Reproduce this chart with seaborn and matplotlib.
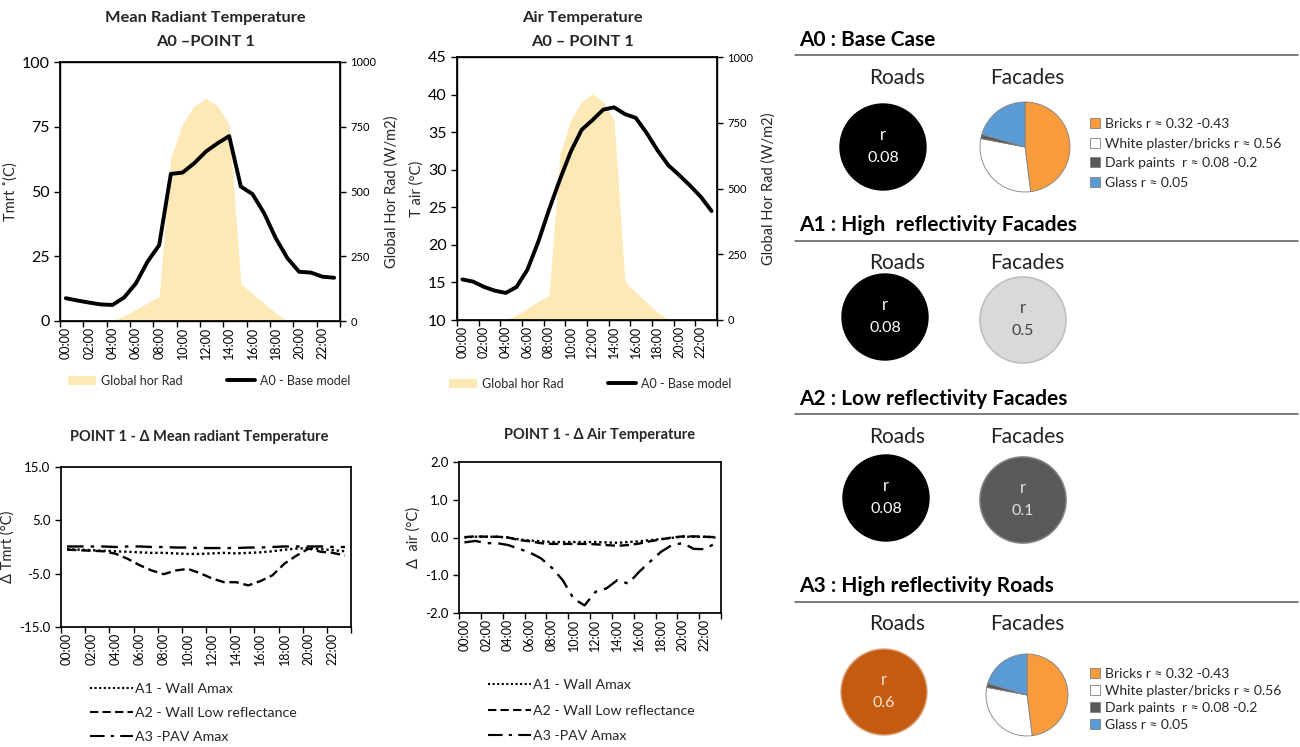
import numpy as np
import pandas as pd
import matplotlib.pyplot as plt
import matplotlib.patches as mpatches
from matplotlib.lines import Line2D
import seaborn as sns

# dados (hora a hora, 00:00 - 23:00)
hours = list(range(24))
hour_ticks = list(range(0, 24, 2))
hour_labels = ["%02d:00" % h for h in hour_ticks]

global_rad = [0, 0, 0, 0, 0, 20, 45, 70, 95, 630, 760, 830, 860, 830, 760, 145, 105, 68, 30, 0, 0, 0, 0, 0]
tmrt_a0 = [8.8, 7.9, 7.1, 6.4, 6.2, 9.1, 14.5, 22.9, 29.3, 56.8, 57.3, 60.9, 65.4, 68.6, 71.4, 51.9,
           49.0, 41.6, 31.9, 24.2, 19.0, 18.7, 17.1, 16.7]
tair_a0 = [15.4, 15.1, 14.4, 13.9, 13.6, 14.4, 16.7, 20.4, 24.7, 28.7, 32.4, 35.3, 36.6, 38.0, 38.3, 37.4,
           36.9, 34.9, 32.6, 30.6, 29.3, 27.9, 26.4, 24.5]

d_tmrt_a1 = [-0.4, -0.5, -0.6, -0.7, -0.8, -0.9, -1.0, -1.1, -1.1, -1.2, -1.3, -1.3, -1.2, -1.1, -1.2, -1.1,
             -1.0, -0.8, -0.5, -0.3, -0.2, -0.4, -0.6, -0.8]
d_tmrt_a2 = [-0.5, -0.6, -0.7, -0.8, -1.25, -2.2, -3.4, -4.4, -5.1, -4.4, -4.1, -4.9, -5.9, -6.6, -6.6, -7.2,
             -6.4, -5.3, -3.1, -1.6, -0.3, -0.9, -1.1, -1.6]
d_tmrt_a3 = [0.1, 0.1, 0.1, 0.1, 0.0, 0.1, 0.1, 0.0, 0.0, -0.1, -0.1, -0.2, -0.2, -0.2, -0.2, -0.1,
             -0.1, 0.0, 0.1, 0.1, 0.1, 0.1, 0.0, 0.0]

d_air_a1 = [0.0, 0.02, 0.02, 0.02, 0.0, -0.05, -0.08, -0.1, -0.12, -0.12, -0.12, -0.12, -0.12, -0.13, -0.14, -0.12,
            -0.1, -0.07, -0.04, -0.01, 0.02, 0.02, 0.02, 0.0]
d_air_a2 = [0.01, 0.03, 0.02, 0.02, 0.0, -0.07, -0.1, -0.15, -0.17, -0.17, -0.17, -0.17, -0.18, -0.2, -0.22, -0.2,
            -0.16, -0.1, -0.05, 0.0, 0.03, 0.03, 0.02, 0.01]
d_air_a3 = [-0.13, -0.09, -0.15, -0.15, -0.2, -0.3, -0.4, -0.55, -0.8, -1.13, -1.62, -1.8, -1.44, -1.35, -1.13, -1.22,
            -0.91, -0.64, -0.38, -0.2, -0.15, -0.3, -0.31, -0.15]

delta_labels = ["A1 - Wall Amax", "A2 - Wall Low reflectance", "A3 -PAV Amax"]

facade_labels = ["Bricks r \u2248 0.32 -0.43", "White plaster/bricks r \u2248 0.56",
                 "Dark paints  r \u2248 0.08 -0.2", "Glass r \u2248 0.05"]
facade_shares = [48, 30, 1.5, 20.5]
facade_colors = ["#f79b3c", "#ffffff", "#595959", "#5b9bd5"]

cenarios = ["A0 : Base Case", "A1 : High  reflectivity Facades", "A2 : Low reflectivity Facades",
            "A3 : High reflectivity Roads"]
road_r = ["0.08", "0.08", "0.08", "0.6"]
facade_r = [None, "0.5", "0.1", None]

sns.set_theme(style="ticks")
plt.rcParams["font.family"] = ["Lato", "DejaVu Sans"]
plt.rcParams["axes.unicode_minus"] = False
plt.rcParams["axes.edgecolor"] = "black"
plt.rcParams["xtick.color"] = "black"
plt.rcParams["ytick.color"] = "black"
plt.rcParams["text.color"] = "#262626"

W, H = 1300, 747
fig = plt.figure(figsize=(13, 7.47), dpi=100)
fig.patch.set_facecolor("white")


def fx(x):
    return x / W


def fy(y):
    return 1 - y / H


def rect(x0, y0, x1, y1):
    return [fx(x0), fy(y1), (x1 - x0) / W, (y1 - y0) / H]


def eixo_horas(ax, size):
    ax.set_xlim(-0.5, 23.5)
    ax.set_xticks(hour_ticks)
    ax.set_xticklabels(hour_labels, rotation=90, fontsize=size)
    ax.set_xticks(np.arange(-0.5, 24, 2), minor=True)
    ax.tick_params(axis="x", which="major", length=0, pad=4)
    ax.tick_params(axis="x", which="minor", length=4, width=1)
    ax.set_xlabel("")


rad_color = "#fde9b5"


def grafico_topo(r, temp, ylim, yticks, ylabel, title, tx, leg_x, leg_y):
    ax = fig.add_axes(r)
    ax2 = ax.twinx()
    ax2.fill_between(hours, global_rad, color=rad_color, lw=0)
    ax2.set_ylim(0, 1000)
    ax2.set_yticks([0, 250, 500, 750, 1000])
    ax2.tick_params(axis="y", labelsize=8, length=4, width=1)
    ax2.set_ylabel("Global Hor Rad (W/m2)", fontsize=10.5, labelpad=6)
    sns.lineplot(x=hours, y=temp, ax=ax, color="black", lw=2.8)
    ax.set_zorder(ax2.get_zorder() + 1)
    ax.patch.set_visible(False)
    ax.set_ylim(*ylim)
    ax.set_yticks(yticks)
    ax.tick_params(axis="y", labelsize=11.5, length=4, width=1)
    ax.set_ylabel(ylabel, fontsize=10.5, labelpad=3)
    eixo_horas(ax, 9)
    for s in ax.spines.values():
        s.set_linewidth(1)
    fig.text(fx(tx), fy(18), title[0], ha="center", va="center", fontsize=11.8, weight="bold")
    fig.text(fx(tx), fy(42), title[1], ha="center", va="center", fontsize=11.8, weight="bold")
    handles = [mpatches.Patch(color=rad_color, lw=0), Line2D([], [], color="black", lw=2.8)]
    fig.legend(handles, ["Global hor Rad", "A0 - Base model"], loc="center left",
               bbox_to_anchor=(fx(leg_x), fy(leg_y)), ncol=2, frameon=False, fontsize=9,
               handlelength=2.2, handleheight=0.8, handletextpad=0.4, columnspacing=3.6, borderpad=0)
    return ax


grafico_topo(rect(60, 62, 340, 321), tmrt_a0, (0, 100), [0, 25, 50, 75, 100], "Tmrt \u02da(C)",
             ("Mean Radiant Temperature", "A0 \u2013POINT 1"), 205, 62, 381)
grafico_topo(rect(457, 57, 717, 320), tair_a0, (10, 45), list(range(10, 50, 5)), "T air (\u00b0C)",
             ("Air Temperature", "A0 \u2013 POINT 1"), 582, 443, 384)

estilos = [(0, (1, 1.2)), (0, (4, 2)), (0, (7, 3, 1.5, 3))]


def grafico_delta(r, series, ylim, yticks, ylabel, title, tx, ty, leg_x, leg_y, espaco):
    ax = fig.add_axes(r)
    df = pd.DataFrame({"hour": hours * 3,
                       "valor": series[0] + series[1] + series[2],
                       "cenario": sum([[lab] * 24 for lab in delta_labels], [])})
    for lab, ls in zip(delta_labels, estilos):
        sub = df[df["cenario"] == lab]
        sns.lineplot(data=sub, x="hour", y="valor", ax=ax, color="black", lw=1.7, linestyle=ls)
    ax.set_ylim(*ylim)
    ax.set_yticks(yticks)
    ax.set_yticklabels(["%.1f" % v for v in yticks], fontsize=9.5)
    ax.tick_params(axis="y", length=4, width=1)
    ax.set_ylabel(ylabel, fontsize=10.5, labelpad=3)
    eixo_horas(ax, 9)
    fig.text(fx(tx), fy(ty), title, ha="center", va="center", fontsize=10.5, weight="bold")
    handles = [Line2D([], [], color="black", lw=1.5, linestyle=ls) for ls in estilos]
    fig.legend(handles, delta_labels, loc="upper left", bbox_to_anchor=(fx(leg_x), fy(leg_y)),
               ncol=1, frameon=False, fontsize=10.2, handlelength=3.0, handletextpad=0.2,
               labelspacing=espaco, borderpad=0)


grafico_delta(rect(61, 467, 351, 627), [d_tmrt_a1, d_tmrt_a2, d_tmrt_a3], (-15, 15), [-15.0, -5.0, 5.0, 15.0],
              "\u0394 Tmrt (\u00b0C)", "POINT 1 - \u0394 Mean radiant Temperature", 199, 437, 83, 676, 0.83)
grafico_delta(rect(459, 462, 721, 613), [d_air_a1, d_air_a2, d_air_a3], (-2, 2), [-2.0, -1.0, 0.0, 1.0, 2.0],
              "\u0394  air (\u00b0C)", "POINT 1 - \u0394 Air Temperature", 600, 435, 481, 672, 0.95)

# painel da direita: cenarios
axr = fig.add_axes([fx(790), 0, (W - 790) / W, 1])
axr.set_xlim(790, W)
axr.set_ylim(H, 0)
axr.axis("off")

header_y = [40, 225, 399, 586]
line_y = [55, 241, 414, 602]
label_y = [78, 263, 437, 624]
road_c = [(883, 147), (885, 317), (886, 498), (884, 692)]
fac_c = [(1025, 147), (1023, 320), (1023, 500), (1027, 695)]
fac_rad = [45, 43, 43, 41]
road_col = ["black", "black", "black", "#c55a11"]
road_txt = ["white", "white", "white", "#fbe5d6"]
fac_fill = [None, "#d9d9d9", "#595959", None]
fac_edge = [None, "#bfbfbf", "#7f7f7f", None]
fac_txt = [None, "#404040", "#e0e0e0", None]
leg_top = {0: 111, 3: 661}
leg_space = {0: 0.55, 3: 0.35}

for i, nome in enumerate(cenarios):
    axr.text(799, header_y[i], nome, fontsize=15, weight="bold", color="black", va="center", ha="left")
    axr.plot([795, 1298], [line_y[i], line_y[i]], color="#555555", lw=1.1)
    axr.text(897, label_y[i], "Roads", fontsize=15, ha="center", va="center", color="#222222")
    axr.text(1027, label_y[i], "Facades", fontsize=15, ha="center", va="center", color="#222222")
    cx, cy = road_c[i]
    axr.add_patch(mpatches.Circle((cx, cy), 43, facecolor=road_col[i],
                                  edgecolor="#d9a27a" if i == 3 else road_col[i], lw=1))
    axr.text(cx, cy - 12, "r", fontsize=12, ha="center", va="center", color=road_txt[i])
    axr.text(cx, cy + 11, road_r[i], fontsize=11.5, ha="center", va="center", color=road_txt[i])
    px, py = fac_c[i]
    if facade_r[i] is not None:
        axr.add_patch(mpatches.Circle((px, py), fac_rad[i], facecolor=fac_fill[i], edgecolor=fac_edge[i], lw=1.2))
        axr.text(px, py - 12, "r", fontsize=12, ha="center", va="center", color=fac_txt[i])
        axr.text(px, py + 11, facade_r[i], fontsize=11.5, ha="center", va="center", color=fac_txt[i])
    else:
        rr = fac_rad[i] * 1.12
        axp = fig.add_axes(rect(px - rr, py - rr, px + rr, py + rr))
        wedges, _ = axp.pie(facade_shares, colors=facade_colors, startangle=90, counterclock=False,
                            radius=1 / 1.12, wedgeprops=dict(edgecolor="#7f7f7f", linewidth=0.6), frame=True)
        axp.set_xlim(-1, 1)
        axp.set_ylim(-1, 1)
        axp.set_aspect("equal")
        axp.axis("off")
        fig.legend(wedges, facade_labels, loc="upper left", bbox_to_anchor=(fx(1083), fy(leg_top[i])),
                   frameon=False, fontsize=10, handlelength=0.75, handleheight=0.75, handletextpad=0.35,
                   labelspacing=leg_space[i], borderpad=0)

fig.savefig("out.png", dpi=100, facecolor="white")
